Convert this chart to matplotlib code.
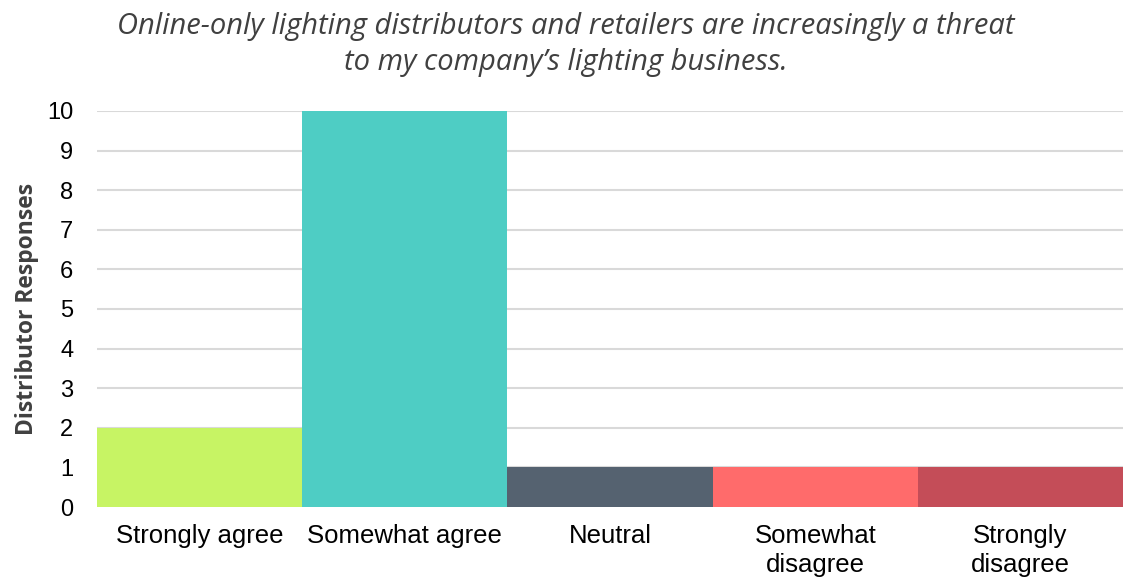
import matplotlib.pyplot as plt
import numpy as np

categories = ["Strongly agree", "Somewhat agree", "Neutral", "Somewhat\ndisagree", "Strongly\ndisagree"]
responses = [2, 10, 1, 1, 1]
colors = ["#C7F464", "#4ECDC4", "#556270", "#FF6B6B", "#C44D58"]
yticks = list(range(0, 11))

fig = plt.figure(figsize=(11.23, 5.86), dpi=100)
ax = fig.add_axes([0.0864, 0.1348, 0.9136, 0.6758])

x = np.arange(len(categories))
ax.bar(x, responses, width=1.0, color=colors, zorder=3)
ax.set_xlim(-0.5, len(categories) - 0.5)
ax.set_ylim(0, 10)

ax.set_yticks(yticks)
ax.set_yticklabels([str(t) for t in yticks], fontsize=17, family="Liberation Sans")
ax.set_xticks(x)
ax.set_xticklabels(categories, fontsize=18.5, family="Liberation Sans", linespacing=1.3)
ax.tick_params(axis="x", length=0, pad=12)
ax.tick_params(axis="y", length=0, pad=17)

ax.grid(axis="y", color="#D9D9D9", linewidth=1.5, zorder=0)
for s in ax.spines.values():
    s.set_visible(False)

ax.set_ylabel("Distributor Responses", fontsize=16.5, fontweight="bold",
              family="Open Sans", color="#404040", labelpad=6)

fig.text(0.504, 0.955, "Online-only lighting distributors and retailers are increasingly a threat",
         ha="center", va="center", fontsize=21, style="italic", family="Open Sans", color="#404040")
fig.text(0.504, 0.893, "to my company\u2019s lighting business.",
         ha="center", va="center", fontsize=21, style="italic", family="Open Sans", color="#404040")

fig.savefig("out.png", dpi=100)
